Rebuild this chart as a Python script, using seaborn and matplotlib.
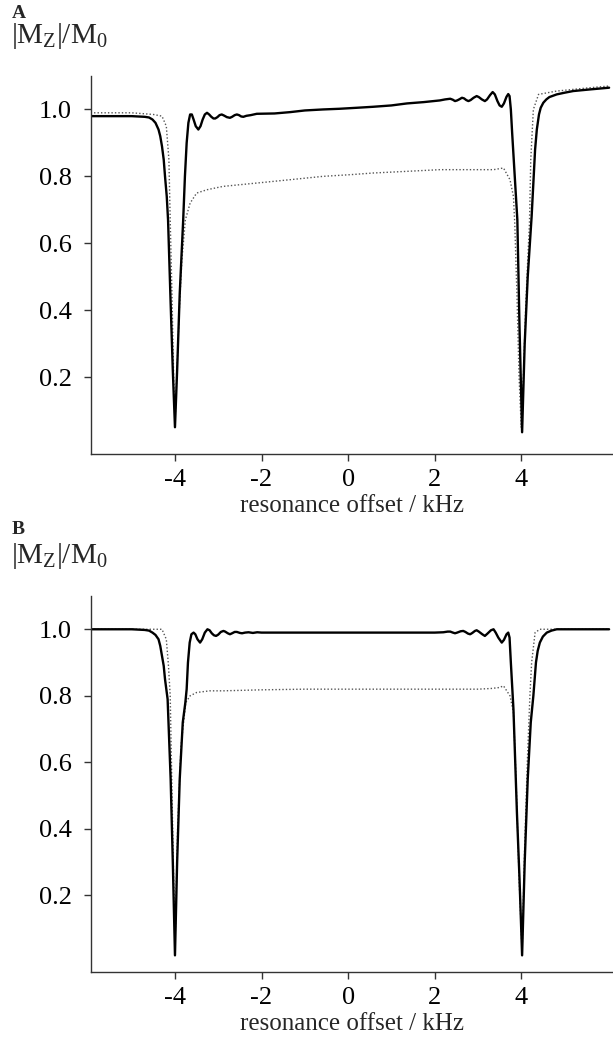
import matplotlib
matplotlib.use("Agg")
import matplotlib.pyplot as plt
import seaborn as sns
import pandas as pd

# ---------------- data ----------------
A_solid_x = [-5.95, -5.5, -5.0, -4.7, -4.6, -4.52, -4.45, -4.38, -4.34, -4.30, -4.26, -4.23, -4.19,
             -4.16, -4.10, -4.05, -4.0, -3.95, -3.89, -3.81, -3.77, -3.73, -3.69, -3.65, -3.61,
             -3.57, -3.52, -3.46, -3.41, -3.36, -3.31, -3.26, -3.21, -3.16, -3.11, -3.07, -3.02,
             -2.97, -2.92, -2.87, -2.80, -2.73, -2.68, -2.62, -2.57, -2.52, -2.47, -2.42, -2.35,
             -2.25, -2.11, -1.7, -1.34, -1.0, -0.58, -0.2, 0.2, 0.58, 1.0, 1.36, 1.75, 2.12,
             2.24, 2.36, 2.42, 2.47, 2.52, 2.58, 2.63, 2.68, 2.73, 2.78, 2.83, 2.90, 2.97, 3.02,
             3.09, 3.16, 3.21, 3.28, 3.34, 3.39, 3.45, 3.50, 3.55, 3.60, 3.66, 3.70, 3.73, 3.76,
             3.79, 3.85, 3.91, 3.96, 4.02, 4.08, 4.15, 4.24, 4.28, 4.32, 4.36, 4.41, 4.45, 4.51,
             4.58, 4.65, 4.82, 5.0, 5.2, 5.6, 6.03]
A_solid_y = [0.98, 0.98, 0.98, 0.978, 0.976, 0.97, 0.96, 0.94, 0.92, 0.89, 0.85, 0.80, 0.74,
             0.67, 0.42, 0.22, 0.05, 0.22, 0.45, 0.67, 0.80, 0.90, 0.96, 0.985, 0.985,
             0.97, 0.95, 0.94, 0.95, 0.97, 0.985, 0.99, 0.985, 0.978, 0.973, 0.973, 0.977,
             0.983, 0.985, 0.982, 0.977, 0.975, 0.978, 0.983, 0.985, 0.983, 0.979, 0.978, 0.981,
             0.983, 0.987, 0.988, 0.992, 0.997, 1.0, 1.002, 1.005, 1.008, 1.012, 1.018, 1.022,
             1.027, 1.03, 1.032, 1.029, 1.025, 1.027, 1.031, 1.035, 1.033, 1.028, 1.025, 1.028,
             1.035, 1.04, 1.037, 1.03, 1.025, 1.03, 1.043, 1.052, 1.045, 1.025, 1.012, 1.008,
             1.018, 1.038, 1.046, 1.04, 1.0, 0.93, 0.80, 0.67, 0.35, 0.035, 0.30, 0.50, 0.68,
             0.78, 0.88, 0.94, 0.985, 1.005, 1.02, 1.03, 1.037, 1.045, 1.05, 1.055, 1.06, 1.065]

A_dot_x = [-5.95, -5.0, -4.5, -4.30, -4.2, -4.14, -4.11, -4.07, -4.03, -4.0, -3.96, -3.9, -3.84,
           -3.76, -3.65, -3.5, -3.26, -2.89, -2.5, -2.11, -1.34, -0.58, 0.05, 0.58, 1.36, 2.12,
           2.6, 3.05, 3.36, 3.59, 3.74, 3.82, 3.85, 3.9, 3.95, 4.0, 4.05, 4.1, 4.15, 4.19, 4.22,
           4.28, 4.4, 4.82, 5.59, 6.03]
A_dot_y = [0.99, 0.99, 0.985, 0.98, 0.95, 0.85, 0.67, 0.45, 0.2, 0.06, 0.2, 0.4, 0.55,
           0.67, 0.72, 0.75, 0.76, 0.77, 0.775, 0.78, 0.79, 0.80, 0.805, 0.81, 0.815, 0.82,
           0.82, 0.82, 0.82, 0.825, 0.79, 0.74, 0.66, 0.45, 0.2, 0.05, 0.2, 0.4, 0.55, 0.66,
           0.85, 1.0, 1.045, 1.055, 1.065, 1.07]

B_solid_x = [-5.95, -5.0, -4.7, -4.6, -4.52, -4.45, -4.38, -4.34, -4.30, -4.26, -4.23, -4.17,
             -4.10, -4.05, -4.0, -3.95, -3.89, -3.82, -3.76, -3.73, -3.70, -3.66, -3.62, -3.57,
             -3.53, -3.48, -3.42, -3.37, -3.31, -3.25, -3.20, -3.15, -3.10, -3.05, -3.00, -2.94,
             -2.88, -2.84, -2.78, -2.73, -2.68, -2.62, -2.57, -2.50, -2.45, -2.38, -2.30, -2.2,
             -2.1, -2.0, -1.5, -1.0, 0.0, 1.0, 1.5, 2.0, 2.2, 2.3, 2.36, 2.42, 2.47, 2.52, 2.60,
             2.66, 2.71, 2.77, 2.82, 2.87, 2.93, 2.97, 3.02, 3.10, 3.16, 3.22, 3.30, 3.36, 3.41,
             3.47, 3.55, 3.60, 3.66, 3.70, 3.73, 3.76, 3.82, 3.90, 3.96, 4.02, 4.08, 4.15, 4.22,
             4.28, 4.31, 4.34, 4.38, 4.43, 4.5, 4.59, 4.7, 4.82, 5.2, 6.03]
B_solid_y = [1.0, 1.0, 0.998, 0.996, 0.99, 0.983, 0.97, 0.95, 0.92, 0.89, 0.85, 0.79,
             0.55, 0.3, 0.02, 0.3, 0.55, 0.72, 0.78, 0.82, 0.9, 0.96, 0.985, 0.99,
             0.985, 0.97, 0.96, 0.97, 0.99, 1.0, 0.997, 0.988, 0.982, 0.98, 0.984, 0.992,
             0.995, 0.993, 0.988, 0.985, 0.988, 0.992, 0.992, 0.989, 0.988, 0.99, 0.991, 0.989,
             0.991, 0.99, 0.99, 0.99, 0.99, 0.99, 0.99, 0.99, 0.991, 0.993, 0.993, 0.99, 0.988,
             0.99, 0.994, 0.995, 0.992, 0.987, 0.985, 0.989, 0.995, 0.997, 0.993, 0.985, 0.98,
             0.987, 0.997, 1.0, 0.99, 0.975, 0.96, 0.968, 0.985, 0.99, 0.975, 0.90, 0.76,
             0.45, 0.25, 0.02, 0.3, 0.55, 0.72, 0.8, 0.85, 0.9, 0.935, 0.96, 0.978, 0.99,
             0.996, 1.0, 1.0, 1.0]

B_dot_x = [-5.95, -5.0, -4.5, -4.30, -4.2, -4.15, -4.11, -4.06, -4.0, -3.94, -3.86, -3.75, -3.65,
           -3.5, -3.2, -2.89, -2.0, -1.0, 0.0, 1.0, 2.0, 3.0, 3.3, 3.5, 3.59, 3.74, 3.82, 3.88,
           3.95, 4.02, 4.08, 4.14, 4.2, 4.24, 4.32, 4.43, 5.0, 6.03]
B_dot_y = [1.0, 1.0, 1.0, 1.0, 0.97, 0.89, 0.8, 0.45, 0.04, 0.4, 0.65, 0.78, 0.8,
           0.81, 0.815, 0.815, 0.818, 0.82, 0.82, 0.82, 0.82, 0.82, 0.822, 0.825, 0.83, 0.8,
           0.75, 0.55, 0.25, 0.03, 0.35, 0.6, 0.8, 0.9, 0.99, 1.0, 1.0, 1.0]

x_ticks = [-4, -2, 0, 2, 4]
x_tick_labels = ["-4", "-2", "0", "2", "4"]
y_ticks = [0.2, 0.4, 0.6, 0.8, 1.0]
y_tick_labels = ["0.2", "0.4", "0.6", "0.8", "1.0"]
panel_letters = ["A", "B"]
x_label = "resonance offset / kHz"
y_label = r"$|\mathrm{M_Z}|/\mathrm{M_0}$"

# ---------------- style ----------------
sns.set_theme(style="ticks")
plt.rcParams["font.family"] = ["Liberation Serif", "DejaVu Serif"]
plt.rcParams["mathtext.fontset"] = "custom"
plt.rcParams["mathtext.rm"] = "Liberation Serif"
plt.rcParams["mathtext.it"] = "Liberation Serif:italic"
plt.rcParams["axes.unicode_minus"] = False

W, H = 613, 1041
fig = plt.figure(figsize=(W / 100, H / 100), dpi=100)

panels = [
    dict(solid=(A_solid_x, A_solid_y), dot=(A_dot_x, A_dot_y), top=76, bottom=454, letter_y=13, lab_y=36),
    dict(solid=(B_solid_x, B_solid_y), dot=(B_dot_x, B_dot_y), top=596, bottom=972, letter_y=530, lab_y=556),
]

for letter, p in zip(panel_letters, panels):
    left_px = 91
    ax = fig.add_axes([left_px / W, 1 - p["bottom"] / H, (W - left_px) / W, (p["bottom"] - p["top"]) / H])
    df_dot = pd.DataFrame({"x": p["dot"][0], "y": p["dot"][1]})
    df_sol = pd.DataFrame({"x": p["solid"][0], "y": p["solid"][1]})
    sns.lineplot(data=df_dot, x="x", y="y", ax=ax, color="#555555", lw=1.0,
                 linestyle=(0, (1, 1.5)), estimator=None, sort=False)
    sns.lineplot(data=df_sol, x="x", y="y", ax=ax, color="black", lw=1.7,
                 estimator=None, sort=False)
    ax.set_xlim(-5.94, 6.12)
    ax.set_ylim(-0.03, 1.10)
    ax.set_xticks(x_ticks)
    ax.set_xticklabels(x_tick_labels)
    ax.set_yticks(y_ticks)
    ax.set_yticklabels(y_tick_labels)
    ax.set_xlabel(x_label, fontsize=18, labelpad=3)
    ax.set_ylabel("")
    for side in ["top", "right"]:
        ax.spines[side].set_visible(False)
    for side in ["left", "bottom"]:
        ax.spines[side].set_color("#333333")
        ax.spines[side].set_linewidth(1.0)
    ax.tick_params(axis="both", direction="out", length=5, width=1.0, color="#333333",
                   labelsize=19, labelcolor="black")
    ax.tick_params(axis="x", pad=6)
    ax.tick_params(axis="y", pad=9)
    fig.text(12 / W, 1 - p["letter_y"] / H, letter, fontsize=14, fontweight="bold",
             ha="left", va="center")
    fig.text(11 / W, 1 - p["lab_y"] / H, y_label, fontsize=21, ha="left", va="center")

fig.savefig("out.png", dpi=100)
